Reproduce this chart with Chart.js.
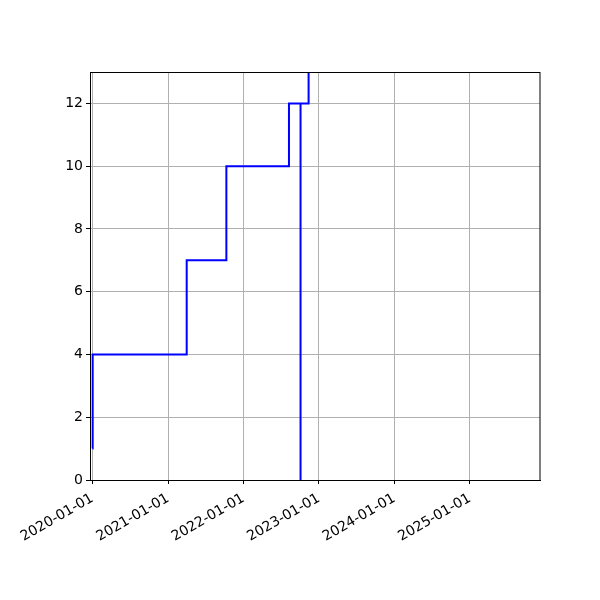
<!DOCTYPE html>
<html>
<head>
<meta charset="utf-8">
<script src="https://cdn.jsdelivr.net/npm/chart.js@4"></script>
<style>
  body { margin: 0; background: #fff; }
  canvas { display: block; }
</style>
</head>
<body>
<canvas id="chart" width="600" height="600"></canvas>
<script>
// step data
const dates = ["2020-01-01", "2020-01-02", "2021-04-01", "2021-10-10", "2022-08-09", "2022-10-04", "2022-10-04", "2022-11-12"];
const counts = [1, 4, 7, 10, 12, 0, 12, 15];
const yearTicks = ["2020-01-01", "2021-01-01", "2022-01-01", "2023-01-01", "2024-01-01", "2025-01-01"];
const xStart = "2019-12-20";
const xEnd = "2025-12-06";

const points = dates.map((d, i) => ({ x: Date.parse(d), y: counts[i] }));

function fmt(ms) {
  return new Date(ms).toISOString().split("T")[0];
}

// black frame round the plot area, like matplotlib spines
const frame = {
  id: "frame",
  afterDraw(chart) {
    const a = chart.chartArea;
    const ctx = chart.ctx;
    ctx.save();
    ctx.strokeStyle = "#000";
    ctx.lineWidth = 1;
    ctx.strokeRect(a.left + 0.5, a.top + 0.5, a.right - a.left - 0.5, a.bottom - a.top);
    ctx.restore();
  }
};

const font = { family: "DejaVu Sans", size: 14 };

new Chart(document.getElementById("chart").getContext("2d"), {
  type: "line",
  data: {
    datasets: [{
      data: points,
      borderColor: "blue",
      borderWidth: 2,
      pointRadius: 0,
      stepped: "before",
      fill: false
    }]
  },
  options: {
    responsive: false,
    animation: false,
    layout: { padding: { top: 72, right: 60, left: 0, bottom: 0 } },
    plugins: { legend: { display: false }, tooltip: { enabled: false } },
    scales: {
      x: {
        type: "linear",
        min: Date.parse(xStart),
        max: Date.parse(xEnd),
        afterBuildTicks(axis) {
          axis.ticks = yearTicks.map(t => ({ value: Date.parse(t) }));
        },
        afterFit(axis) { axis.height = 120; },
        grid: { color: "#b0b0b0", tickColor: "#000", tickLength: 4, lineWidth: 1 },
        border: { color: "#000" },
        ticks: {
          color: "#000",
          font: font,
          minRotation: 30,
          maxRotation: 30,
          padding: 6,
          autoSkip: false,
          callback: v => fmt(v)
        }
      },
      y: {
        min: 0,
        max: 13,
        afterFit(axis) { axis.width = 90; },
        grid: { color: "#b0b0b0", tickColor: "#000", tickLength: 4, lineWidth: 1 },
        border: { color: "#000" },
        ticks: {
          color: "#000",
          font: font,
          stepSize: 2,
          includeBounds: false,
          padding: 3
        }
      }
    }
  },
  plugins: [frame]
});
</script>
</body>
</html>
